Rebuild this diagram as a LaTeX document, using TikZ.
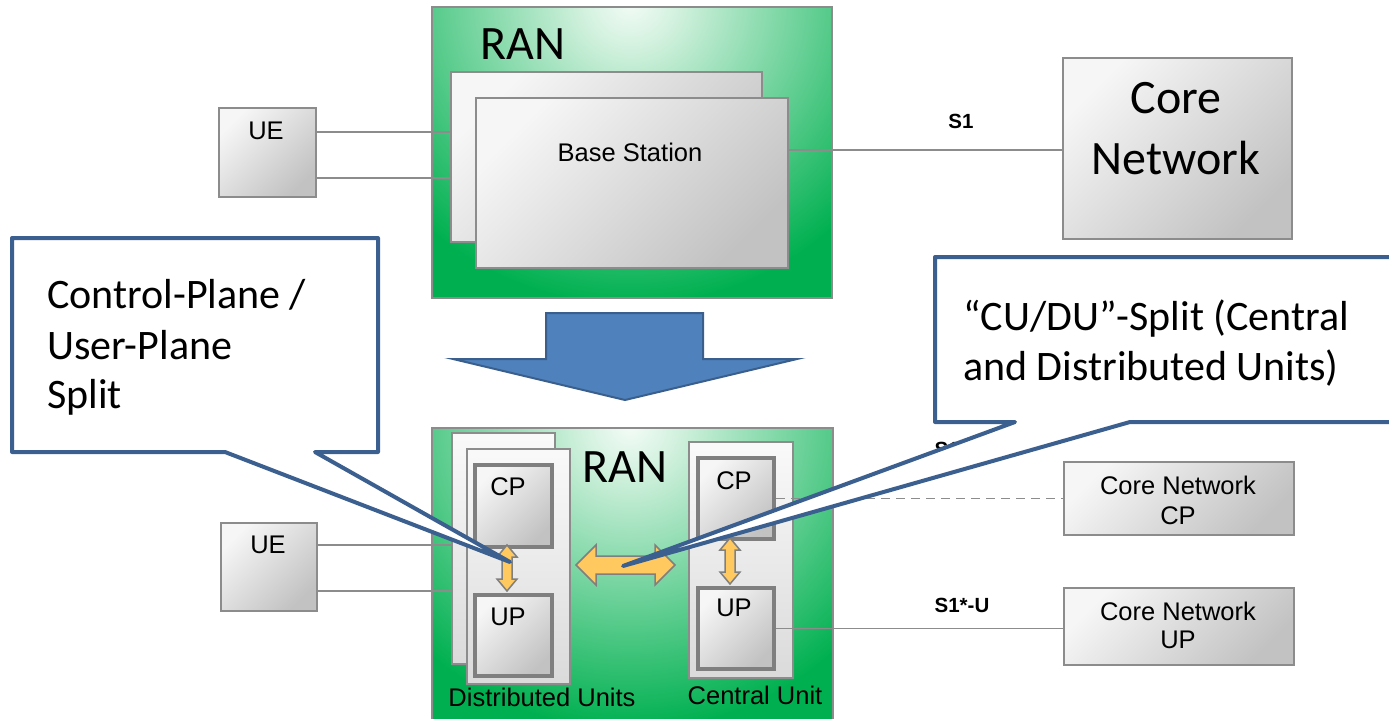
\documentclass[tikz,border=0pt]{standalone}
\usepackage{fontspec}
\setmainfont{Liberation Sans}
\newfontfamily\cfont{Carlito}
\newfontfamily\afont{Liberation Sans}
\definecolor{ranG}{HTML}{00B050}
\definecolor{ranM}{HTML}{D2F1DE}
\definecolor{ranL}{HTML}{F4FCF7}
\definecolor{gtop}{HTML}{F6F6F6}
\definecolor{gbot}{HTML}{C2C2C2}
\definecolor{bord}{HTML}{8C8C8C}
\definecolor{tbord}{HTML}{7F7F7F}
\definecolor{cblue}{HTML}{3B5F8F}
\definecolor{ablue}{HTML}{4F81BD}
\definecolor{aedge}{HTML}{3A5F8C}
\definecolor{yel}{HTML}{FFC960}
\pgfdeclareradialshading{ranshade}{\pgfpoint{0bp}{0bp}}{color(0bp)=(ranL); color(3bp)=(ranM); color(19bp)=(ranG); color(50bp)=(ranG)}
\tikzset{
  gbox/.style={draw=bord, line width=1.5pt, top color=gtop, bottom color=gbot, shading angle=45, inner sep=0pt, anchor=north west},
  lbox/.style={gbox, top color=gtop!60!white, bottom color=gbot!60!white},
  tbox/.style={gbox, line width=4pt, draw=tbord},
  ranframe/.style={draw=bord, line width=1.5pt, inner sep=0pt, anchor=north west},
  atext/.style={font=\afont\fontsize{25.5}{30}\selectfont, inner sep=0pt},
  ctext/.style={font=\cfont\fontsize{42}{50}\selectfont, inner sep=0pt},
  bigtext/.style={font=\cfont\fontsize{48}{58}\selectfont, inner sep=0pt},
  lbl/.style={font=\afont\bfseries\fontsize{20.5}{24}\selectfont, inner sep=0pt},
  conn/.style={draw=bord, line width=1.5pt},
  callout/.style={draw=cblue, line width=4pt, fill=white, line join=round},
  yarrow/.style={fill=yel, draw=tbord, line width=1.5pt, line join=miter}
}
\begin{document}
\begin{tikzpicture}[x=1pt,y=-1pt]
\useasboundingbox (0,0) rectangle (1389,718);

% ---------- top RAN ----------
\begin{scope}
  \clip (431,6) rectangle (831,297);
  \fill[ranG] (431,6) rectangle (831,297);
  \shade[shading=ranshade] (630,0) circle (400pt);
\end{scope}
\node[ranframe, minimum width=400pt, minimum height=291pt] (ran1) at (431,6) {};
\node[bigtext] (ran1t) at (523,44) {RAN};

\node[gbox, minimum width=311pt, minimum height=170pt] (bsback) at (450,71) {};
\node[gbox, minimum width=312pt, minimum height=170pt] (bsfront) at (475,97) {};
\node[atext] (bst) at (630,152) {Base Station};

\node[gbox, minimum width=97pt, minimum height=89pt] (ue1) at (218,107) {};
\node[atext] (ue1t) at (266,131) {UE};
\coordinate (u1a) at ([yshift=-25pt]ue1.north east);
\coordinate (u1b) at ([yshift=-71pt]ue1.north east);
\draw[conn] (u1a) -- (u1a -| bsback.west);
\draw[conn] (u1b) -- (u1b -| bsback.west);

\node[gbox, minimum width=229pt, minimum height=181pt] (core) at (1062,57) {};
\node[bigtext] (coret1) at (1176,98) {Core};
\node[bigtext] (coret2) at (1176,158) {Network};
\coordinate (s1a) at ([yshift=-53pt]bsfront.north east);
\draw[conn] (s1a) -- (s1a -| core.west);
\node[lbl] (s1) at (961,121) {S1};

% ---------- big arrow ----------
\draw[fill=ablue, draw=aedge, line width=2pt] (546,313) -- (703,313) -- (703,359) -- (797,359) -- (625,400) -- (453,359) -- (546,359) -- cycle;

% ---------- bottom RAN ----------
\begin{scope}
  \clip (431,427) rectangle (832,718);
  \fill[ranG] (431,427) rectangle (832,718);
  \shade[shading=ranshade] (630,425) circle (400pt);
\end{scope}
\node[ranframe, minimum width=401pt, minimum height=292pt] (ran2) at (431,427) {};
\node[bigtext] (ran2t) at (625,467) {RAN};

\node[lbox, minimum width=103pt, minimum height=231pt] (dub) at (451,432) {};
\node[lbox, minimum width=103pt, minimum height=235pt] (duf) at (466,448) {};
\node[tbox, minimum width=77pt, minimum height=82pt] (ducp) at (473,463) {};
\node[tbox, minimum width=77pt, minimum height=81pt] (duup) at (473,593) {};
\node[atext] (ducpt) at (508,487) {CP};
\node[atext] (duupt) at (508,617) {UP};

\node[lbox, minimum width=104pt, minimum height=236pt] (cu) at (688,441) {};
\node[tbox, minimum width=76pt, minimum height=81pt] (cucp) at (696,456) {};
\node[tbox, minimum width=76pt, minimum height=81pt] (cuup) at (696,586) {};
\node[atext] (cucpt) at (734,481) {CP};
\node[atext] (cuupt) at (734,608) {UP};

\node[atext] (dut) at (542,697) {Distributed Units};
\node[atext] (cut) at (755,695) {Central Unit};

\node[gbox, minimum width=96pt, minimum height=88pt] (ue2) at (220,522) {};
\node[atext] (ue2t) at (268,545) {UE};
\coordinate (u2a) at ([yshift=-23pt]ue2.north east);
\coordinate (u2b) at ([yshift=-69pt]ue2.north east);
\draw[conn] (u2a) -- (u2a -| dub.west);
\draw[conn] (u2b) -- (u2b -| dub.west);

\node[gbox, minimum width=230pt, minimum height=73pt] (corecp) at (1063,461) {};
\node[atext] (corecpt1) at (1178,485) {Core Network};
\node[atext] (corecpt2) at (1178,516) {CP};
\node[gbox, minimum width=230pt, minimum height=77pt] (coreup) at (1063,587) {};
\node[atext] (coreupt1) at (1178,611) {Core Network};
\node[atext] (coreupt2) at (1178,640) {UP};

\draw[conn, dash pattern=on 9pt off 6pt] (cucp.east) -- (cucp.east -| corecp.west);
\draw[conn] (cuup.east) -- (cuup.east -| coreup.west);
\node[lbl] (s1c) at (962,449) {S1*-C};
\node[lbl] (s1u) at (962,605) {S1*-U};

% ---------- yellow arrows ----------
\draw[yarrow] (576,565) -- (596,545) -- (596,556) -- (655,556) -- (655,545) -- (675,565) -- (655,585) -- (655,574) -- (596,574) -- (596,585) -- cycle;
\draw[yarrow] (507,545) -- (517,557) -- (512,557) -- (512,579) -- (517,579) -- (507,591) -- (497,579) -- (502,579) -- (502,557) -- (497,557) -- cycle;
\draw[yarrow] (730,538) -- (740,550) -- (735,550) -- (735,572) -- (740,572) -- (730,584) -- (720,572) -- (725,572) -- (725,550) -- (720,550) -- cycle;

% ---------- callouts ----------
\draw[callout] (12,238) -- (378,238) -- (378,452) -- (315,452) -- (510,562) -- (225,452) -- (12,452) -- cycle;
\node[ctext, anchor=base west] (cl1) at (47,308) {Control-Plane /};
\node[ctext, anchor=base west] (cl2) at (47,359) {User-Plane};
\node[ctext, anchor=base west] (cl3) at (47,408) {Split};

\draw[callout] (935,257) -- (1400,257) -- (1400,422) -- (1130,422) -- (623,566) -- (1015,422) -- (935,422) -- cycle;
\node[ctext, anchor=base west] (cr1) at (963,330) {“CU/DU”-Split (Central};
\node[ctext, anchor=base west] (cr2) at (963,380) {and Distributed Units)};
\end{tikzpicture}
\end{document}
